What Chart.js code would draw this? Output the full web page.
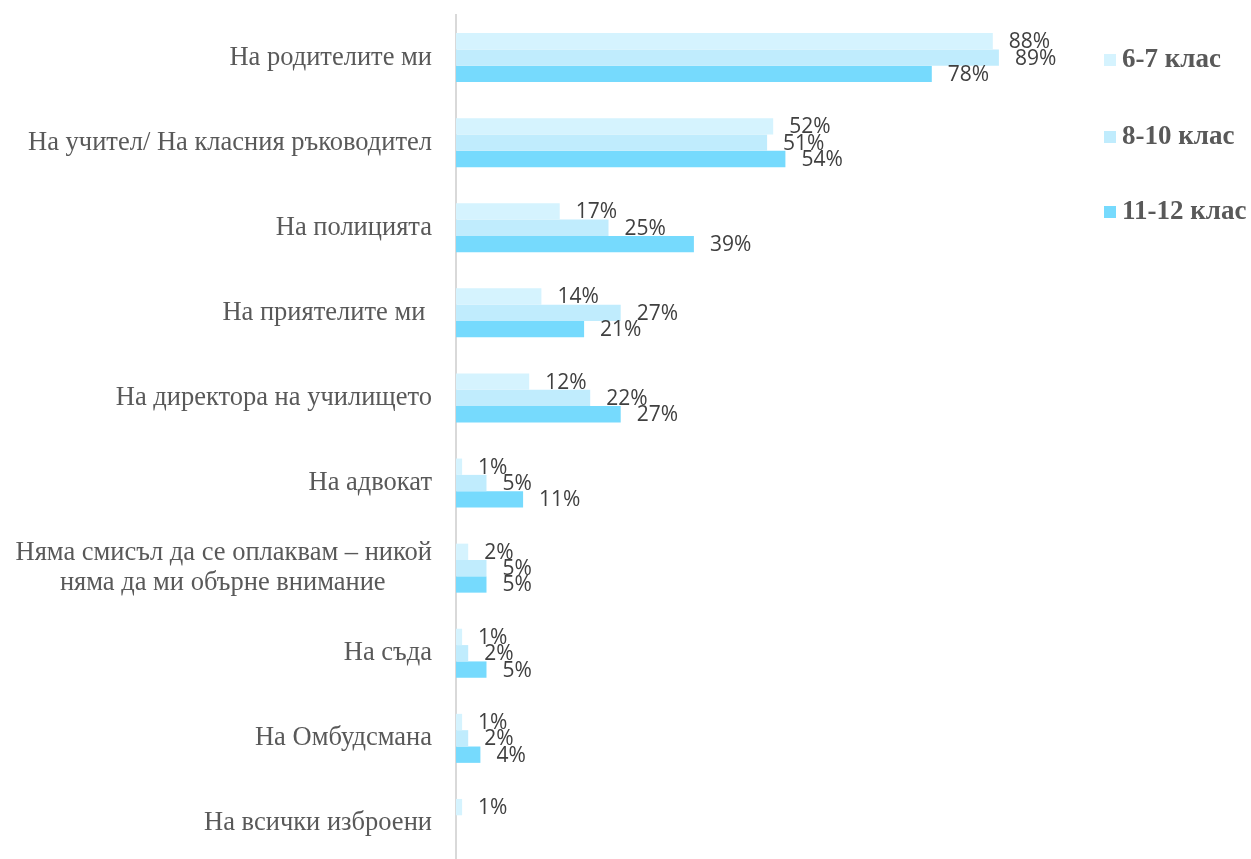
<!DOCTYPE html>
<html lang="bg">
<head>
    <meta charset="UTF-8">
    <title>Към кого би се обърнал</title>
    <script src="https://cdn.jsdelivr.net/npm/chart.js"></script>
    <style>
        html, body { margin: 0; padding: 0; background: #fff; overflow: hidden; }
        #wrap { position: relative; width: 1251px; height: 868px; }
        #legenda { position: absolute; left: 1104px; top: 0; }
        .item { position: absolute; left: 0; white-space: nowrap; line-height: 30px;
                font: bold 27px "Liberation Serif", "Times New Roman", serif; color: #595959; }
        .item span.box { display: inline-block; width: 12px; height: 12px; margin-right: 6px; vertical-align: 1px; }
    </style>
</head>
<body>
<div id="wrap">
    <canvas id="grafico"></canvas>
    <div id="legenda"></div>
</div>

<script>
    // categorias (eixo y)
    const categorias = [
        "На родителите ми",
        "На учител/ На класния ръководител",
        "На полицията",
        "На приятелите ми ",
        "На директора на училището",
        "На адвокат",
        ["Няма смисъл да се оплаквам – никой", "няма да ми обърне внимание\u00A0\u00A0\u00A0\u00A0\u00A0\u00A0\u00A0"],
        "На съда",
        "На Омбудсмана",
        "На всички изброени"
    ];

    const series = ["6-7 клас", "8-10 клас", "11-12 клас"];
    const cores = ["#d5f3fe", "#c0ecfd", "#76dafd"];

    const klas67 = [88, 52, 17, 14, 12, 1, 2, 1, 1, 1];
    const klas810 = [89, 51, 25, 27, 22, 5, 5, 2, 2, null];
    const klas1112 = [78, 54, 39, 21, 27, 11, 5, 5, 4, null];

    const valores = [klas67, klas810, klas1112];

    // rótulos de porcentagem no fim das barras
    const rotulos = {
        id: 'rotulos',
        afterDatasetsDraw(chart) {
            const ctx = chart.ctx;
            ctx.save();
            ctx.font = '21px "Open Sans", sans-serif';
            ctx.fillStyle = '#404040';
            ctx.textAlign = 'left';
            ctx.textBaseline = 'middle';
            chart.data.datasets.forEach(function (ds, i) {
                chart.getDatasetMeta(i).data.forEach(function (bar, j) {
                    const v = ds.data[j];
                    if (v == null) return;
                    ctx.fillText(v + '%', bar.x + 16, bar.y + 1);
                });
            });
            ctx.restore();
        }
    };

    const dados = {
        labels: categorias,
        datasets: series.map(function (nome, i) {
            return {
                label: nome,
                data: valores[i],
                backgroundColor: cores[i],
                borderWidth: 0,
                categoryPercentage: 0.576,
                barPercentage: 1
            };
        })
    };

    const config = {
        type: 'bar',
        data: dados,
        options: {
            indexAxis: 'y',
            responsive: false,
            animation: false,
            layout: { padding: { top: 15, bottom: 2, right: 185, left: 0 } },
            plugins: {
                legend: { display: false },
                tooltip: { enabled: false }
            },
            scales: {
                x: {
                    display: false,
                    min: 0,
                    max: 100
                },
                y: {
                    grid: { display: false, drawTicks: false },
                    border: { display: true, color: '#d9d9d9', width: 2 },
                    afterFit: function (scale) {
                        scale.width = 456;
                        scale.paddingTop = 0;
                        scale.paddingBottom = 0;
                    },
                    ticks: {
                        color: '#595959',
                        padding: 24,
                        font: { family: '"Liberation Serif", "Times New Roman", serif', size: 26.5, lineHeight: 1.13 }
                    }
                }
            }
        },
        plugins: [rotulos]
    };

    const canvas = document.getElementById('grafico');
    canvas.width = 1251;
    canvas.height = 868;
    new Chart(canvas, config);

    // legenda em HTML
    const legenda = document.getElementById('legenda');
    const topos = [43, 120, 195];
    series.forEach(function (nome, i) {
        const d = document.createElement('div');
        d.className = 'item';
        d.style.top = topos[i] + 'px';
        d.innerHTML = '<span class="box" style="background:' + cores[i] + '"></span>' + nome;
        legenda.appendChild(d);
    });
</script>
</body>
</html>
